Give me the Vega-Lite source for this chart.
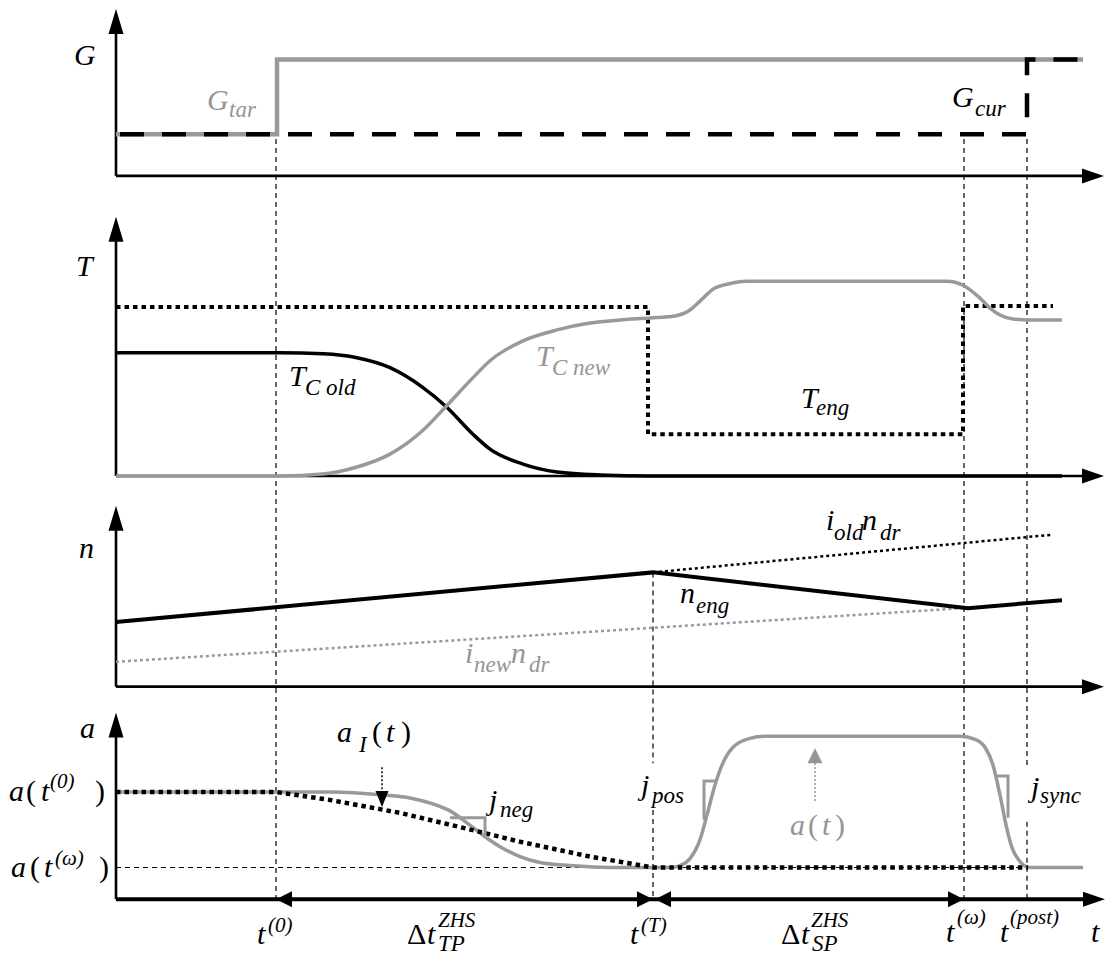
{
"$schema": "https://vega.github.io/schema/vega-lite/v6.json",
"width": 1105, "height": 956,
"autosize": {"type": "fit", "contains": "padding"},
"padding": 0,
"background": "white",
"config": {"view": {"stroke": null}, "text": {"font": "Liberation Serif"}},
"datasets": {
"axes": [
{"id":"yG","o":0,"t":116,"y":30},{"id":"yG","o":1,"t":116,"y":177},
{"id":"xG","o":0,"t":116,"y":177},{"id":"xG","o":1,"t":1086,"y":177},
{"id":"yT","o":0,"t":116,"y":240},{"id":"yT","o":1,"t":116,"y":479},
{"id":"xT","o":0,"t":116,"y":479},{"id":"xT","o":1,"t":1086,"y":479},
{"id":"yN","o":0,"t":116,"y":531},{"id":"yN","o":1,"t":116,"y":691},
{"id":"xN","o":0,"t":116,"y":691},{"id":"xN","o":1,"t":1086,"y":691},
{"id":"yA","o":0,"t":116,"y":739},{"id":"yA","o":1,"t":116,"y":905}
],
"axisA": [
{"id":"xA","o":0,"t":116,"y":905},{"id":"xA","o":1,"t":1090,"y":905}
],
"refs": [
{"id":"aw","o":0,"t":116,"y":873},{"id":"aw","o":1,"t":1083,"y":873},
{"id":"t0","o":0,"t":276,"y":140},{"id":"t0","o":1,"t":276,"y":905},
{"id":"tT1","o":0,"t":653,"y":576},{"id":"tT1","o":1,"t":653,"y":768},
{"id":"tT2","o":0,"t":653,"y":815},{"id":"tT2","o":1,"t":653,"y":905},
{"id":"tw","o":0,"t":964,"y":140},{"id":"tw","o":1,"t":964,"y":905},
{"id":"tp1","o":0,"t":1027,"y":140},{"id":"tp1","o":1,"t":1027,"y":772},
{"id":"tp2","o":0,"t":1027,"y":827},{"id":"tp2","o":1,"t":1027,"y":905}
],
"gtar": [
{"id":"g","o":0,"t":116,"y":135},{"id":"g","o":1,"t":277,"y":135},{"id":"g","o":2,"t":277,"y":60},{"id":"g","o":3,"t":1083,"y":60}
],
"gcur": [
{"id":"c","o":0,"t":116,"y":135},{"id":"c","o":1,"t":1027,"y":135},{"id":"c","o":2,"t":1027,"y":60},{"id":"c","o":3,"t":1083,"y":60}
],
"teng": [
{"id":"e","o":0,"t":116,"y":309},{"id":"e","o":1,"t":648,"y":309},{"id":"e","o":2,"t":648,"y":437},{"id":"e","o":3,"t":963,"y":437},{"id":"e","o":4,"t":963,"y":308},{"id":"e","o":5,"t":1053,"y":308}
],
"tcold": [
{"id":"o","o":0,"t":116,"y":355},{"id":"o","o":1,"t":280,"y":355},{"id":"o","o":2,"t":323,"y":356},{"id":"o","o":3,"t":357,"y":360},{"id":"o","o":4,"t":390,"y":370},{"id":"o","o":5,"t":423,"y":390},{"id":"o","o":6,"t":446,"y":409},{"id":"o","o":7,"t":473,"y":437},{"id":"o","o":8,"t":490,"y":452},{"id":"o","o":9,"t":523,"y":467},{"id":"o","o":10,"t":557,"y":475},{"id":"o","o":11,"t":600,"y":478},{"id":"o","o":12,"t":650,"y":479},{"id":"o","o":13,"t":1062,"y":479}
],
"tcnew": [
{"id":"n","o":0,"t":116,"y":479},{"id":"n","o":1,"t":280,"y":479},{"id":"n","o":2,"t":323,"y":477},{"id":"n","o":3,"t":357,"y":470},{"id":"n","o":4,"t":390,"y":457},{"id":"n","o":5,"t":423,"y":433},{"id":"n","o":6,"t":446,"y":409},{"id":"n","o":7,"t":473,"y":380},{"id":"n","o":8,"t":490,"y":363},{"id":"n","o":9,"t":523,"y":343},{"id":"n","o":10,"t":557,"y":332},{"id":"n","o":11,"t":590,"y":325},{"id":"n","o":12,"t":620,"y":322},{"id":"n","o":13,"t":650,"y":320},{"id":"n","o":14,"t":675,"y":318},{"id":"n","o":15,"t":690,"y":312},{"id":"n","o":16,"t":700,"y":303},{"id":"n","o":17,"t":713,"y":291},{"id":"n","o":18,"t":727,"y":286},{"id":"n","o":19,"t":747,"y":283},{"id":"n","o":20,"t":947,"y":283},{"id":"n","o":21,"t":963,"y":287},{"id":"n","o":22,"t":980,"y":300},{"id":"n","o":23,"t":990,"y":310},{"id":"n","o":24,"t":1000,"y":317},{"id":"n","o":25,"t":1013,"y":321},{"id":"n","o":26,"t":1030,"y":322},{"id":"n","o":27,"t":1062,"y":322}
],
"neng": [
{"id":"m","o":0,"t":116,"y":626},{"id":"m","o":1,"t":653,"y":576},{"id":"m","o":2,"t":968,"y":612},{"id":"m","o":3,"t":1062,"y":604}
],
"iold": [
{"id":"io","o":0,"t":653,"y":576},{"id":"io","o":1,"t":1053,"y":538}
],
"inew": [
{"id":"in","o":0,"t":116,"y":666},{"id":"in","o":1,"t":963,"y":612}
],
"agray": [
{"id":"a","o":0,"t":116,"y":797},{"id":"a","o":1,"t":276,"y":797},{"id":"a","o":2,"t":330,"y":797},{"id":"a","o":3,"t":383,"y":800},{"id":"a","o":4,"t":410,"y":803},{"id":"a","o":5,"t":433,"y":809},{"id":"a","o":6,"t":450,"y":816},{"id":"a","o":7,"t":467,"y":828},{"id":"a","o":8,"t":485,"y":842},{"id":"a","o":9,"t":500,"y":852},{"id":"a","o":10,"t":520,"y":862},{"id":"a","o":11,"t":540,"y":868},{"id":"a","o":12,"t":570,"y":871},{"id":"a","o":13,"t":610,"y":873},{"id":"a","o":14,"t":670,"y":873},{"id":"a","o":15,"t":680,"y":871},{"id":"a","o":16,"t":690,"y":864},{"id":"a","o":17,"t":700,"y":845},{"id":"a","o":18,"t":707,"y":820},{"id":"a","o":19,"t":715,"y":790},{"id":"a","o":20,"t":722,"y":770},{"id":"a","o":21,"t":733,"y":752},{"id":"a","o":22,"t":750,"y":743},{"id":"a","o":23,"t":765,"y":741},{"id":"a","o":24,"t":960,"y":741},{"id":"a","o":25,"t":975,"y":744},{"id":"a","o":26,"t":985,"y":752},{"id":"a","o":27,"t":993,"y":770},{"id":"a","o":28,"t":1000,"y":800},{"id":"a","o":29,"t":1006,"y":830},{"id":"a","o":30,"t":1012,"y":853},{"id":"a","o":31,"t":1020,"y":867},{"id":"a","o":32,"t":1030,"y":873},{"id":"a","o":33,"t":1083,"y":873}
],
"ai": [
{"id":"ai","o":0,"t":116,"y":797},{"id":"ai","o":1,"t":276,"y":797},{"id":"ai","o":2,"t":330,"y":805},{"id":"ai","o":3,"t":400,"y":818},{"id":"ai","o":4,"t":467,"y":834},{"id":"ai","o":5,"t":520,"y":847},{"id":"ai","o":6,"t":590,"y":862},{"id":"ai","o":7,"t":653,"y":873},{"id":"ai","o":8,"t":1028,"y":873}
],
"jerk": [
{"id":"jn","o":0,"t":450,"y":823},{"id":"jn","o":1,"t":485,"y":823},{"id":"jn","o":2,"t":485,"y":843},
{"id":"jp","o":0,"t":704,"y":825},{"id":"jp","o":1,"t":704,"y":786},{"id":"jp","o":2,"t":716,"y":786},
{"id":"js","o":0,"t":997,"y":781},{"id":"js","o":1,"t":1008,"y":781},{"id":"js","o":2,"t":1008,"y":823}
],
"stemk": [
{"id":"s1","o":0,"t":382,"y":772},{"id":"s1","o":1,"t":382,"y":798}
],
"stemg": [
{"id":"s2","o":0,"t":815,"y":806},{"id":"s2","o":1,"t":815,"y":766}
],
"arrows": [
{"t":116,"y":9,"dir":"up","tone":"k"},{"t":116,"y":218,"dir":"up","tone":"k"},{"t":116,"y":509,"dir":"up","tone":"k"},{"t":116,"y":717,"dir":"up","tone":"k"},
{"t":1104,"y":177,"dir":"right","tone":"k"},{"t":1104,"y":479,"dir":"right","tone":"k"},{"t":1104,"y":691,"dir":"right","tone":"k"},{"t":1105,"y":905,"dir":"right","tone":"k"},
{"t":276,"y":905,"dir":"sleft","tone":"k"},{"t":655,"y":905,"dir":"sleft","tone":"k"},{"t":653,"y":905,"dir":"sright","tone":"k"},{"t":964,"y":905,"dir":"sright","tone":"k"},
{"t":382,"y":812,"dir":"down","tone":"k"},{"t":815,"y":753,"dir":"gup","tone":"g"}
],
"tmain": [
{"t":74,"y":65,"s":"G","tone":"k"},{"t":76,"y":278,"s":"T","tone":"k"},{"t":79,"y":562,"s":"n","tone":"k"},{"t":80,"y":743,"s":"a","tone":"k"},
{"t":207,"y":111,"s":"G","tone":"g"},{"t":952,"y":108,"s":"G","tone":"k"},
{"t":289,"y":388,"s":"T","tone":"k"},{"t":536,"y":368,"s":"T","tone":"g"},{"t":801,"y":411,"s":"T","tone":"k"},
{"t":826,"y":533,"s":"i","tone":"k"},{"t":862,"y":533,"s":"n","tone":"k"},
{"t":680,"y":607,"s":"n","tone":"k"},
{"t":465,"y":667,"s":"i","tone":"g"},{"t":511,"y":667,"s":"n","tone":"g"},
{"t":9,"y":806,"s":"a","tone":"k"},{"t":41,"y":806,"s":"t","tone":"k"},
{"t":11,"y":883,"s":"a","tone":"k"},{"t":44,"y":883,"s":"t","tone":"k"},
{"t":337,"y":747,"s":"a","tone":"k"},{"t":386,"y":747,"s":"t","tone":"k"},
{"t":489,"y":815,"s":"j","tone":"k"},{"t":641,"y":800,"s":"j","tone":"k"},{"t":1031,"y":802,"s":"j","tone":"k"},
{"t":790,"y":840,"s":"a","tone":"g"},{"t":822,"y":840,"s":"t","tone":"g"},
{"t":257,"y":950,"s":"t","tone":"k"},{"t":427,"y":950,"s":"t","tone":"k"},{"t":630,"y":950,"s":"t","tone":"k"},{"t":801,"y":950,"s":"t","tone":"k"},{"t":946,"y":948,"s":"t","tone":"k"},{"t":1000,"y":948,"s":"t","tone":"k"},{"t":1091,"y":948,"s":"t","tone":"k"}
],
"tsub": [
{"t":229,"y":118,"s":"tar","tone":"g"},{"t":975,"y":117,"s":"cur","tone":"k"},
{"t":305,"y":397,"s":"C old","tone":"k"},{"t":552,"y":377,"s":"C new","tone":"g"},{"t":816,"y":418,"s":"eng","tone":"k"},
{"t":834,"y":543,"s":"old","tone":"k"},{"t":880,"y":543,"s":"dr","tone":"k"},
{"t":696,"y":617,"s":"eng","tone":"k"},
{"t":474,"y":676,"s":"new","tone":"g"},{"t":529,"y":676,"s":"dr","tone":"g"},
{"t":359,"y":757,"s":"I","tone":"k"},
{"t":500,"y":822,"s":"neg","tone":"k"},{"t":652,"y":808,"s":"pos","tone":"k"},{"t":1040,"y":808,"s":"sync","tone":"k"},
{"t":438,"y":957,"s":"TP","tone":"k"},{"t":812,"y":957,"s":"SP","tone":"k"}
],
"tsup": [
{"t":50,"y":793,"s":"(0)","tone":"k"},{"t":55,"y":870,"s":"(ω)","tone":"k"},
{"t":268,"y":938,"s":"(0)","tone":"k"},{"t":641,"y":938,"s":"(T)","tone":"k"},
{"t":957,"y":930,"s":"(ω)","tone":"k"},{"t":1010,"y":930,"s":"(post)","tone":"k"},
{"t":438,"y":933,"s":"ZHS","tone":"k"},{"t":811,"y":933,"s":"ZHS","tone":"k"}
],
"troman": [
{"t":26,"y":806,"s":"(","tone":"k"},{"t":95,"y":806,"s":")","tone":"k"},
{"t":30,"y":883,"s":"(","tone":"k"},{"t":99,"y":883,"s":")","tone":"k"},
{"t":372,"y":747,"s":"(","tone":"k"},{"t":401,"y":747,"s":")","tone":"k"},
{"t":808,"y":840,"s":"(","tone":"g"},{"t":835,"y":840,"s":")","tone":"g"},
{"t":407,"y":950,"s":"Δ","tone":"k"},{"t":781,"y":950,"s":"Δ","tone":"k"}
]
},
"encoding": {
"x": {"field": "t", "type": "quantitative", "scale": {"domain": [0, 1105], "nice": false, "zero": false}, "axis": null},
"y": {"field": "y", "type": "quantitative", "scale": {"domain": [956, 0], "nice": false, "zero": false}, "axis": null}
},
"layer": [
{"data": {"name": "refs"}, "mark": {"type": "line", "stroke": "#000000", "strokeWidth": 1.2, "strokeDash": [5, 4]}, "encoding": {"detail": {"field": "id"}, "order": {"field": "o"}}},
{"data": {"name": "axes"}, "mark": {"type": "line", "stroke": "#000000", "strokeWidth": 2.6}, "encoding": {"detail": {"field": "id"}, "order": {"field": "o"}}},
{"data": {"name": "axisA"}, "mark": {"type": "line", "stroke": "#000000", "strokeWidth": 4}, "encoding": {"detail": {"field": "id"}, "order": {"field": "o"}}},
{"data": {"name": "gtar"}, "mark": {"type": "line", "stroke": "#999999", "strokeWidth": 4.5}, "encoding": {"detail": {"field": "id"}, "order": {"field": "o"}}},
{"data": {"name": "gcur"}, "mark": {"type": "line", "stroke": "#000000", "strokeWidth": 4.5, "strokeDash": [24, 18], "strokeDashOffset": -4}, "encoding": {"detail": {"field": "id"}, "order": {"field": "o"}}},
{"data": {"name": "teng"}, "mark": {"type": "line", "stroke": "#000000", "strokeWidth": 4, "strokeDash": [4.5, 4]}, "encoding": {"detail": {"field": "id"}, "order": {"field": "o"}}},
{"data": {"name": "tcold"}, "mark": {"type": "line", "stroke": "#000000", "strokeWidth": 3.5, "interpolate": "monotone"}, "encoding": {"detail": {"field": "id"}, "order": {"field": "o"}}},
{"data": {"name": "tcnew"}, "mark": {"type": "line", "stroke": "#999999", "strokeWidth": 3.5, "interpolate": "monotone"}, "encoding": {"detail": {"field": "id"}, "order": {"field": "o"}}},
{"data": {"name": "inew"}, "mark": {"type": "line", "stroke": "#999999", "strokeWidth": 2.5, "strokeDash": [3, 3]}, "encoding": {"detail": {"field": "id"}, "order": {"field": "o"}}},
{"data": {"name": "iold"}, "mark": {"type": "line", "stroke": "#000000", "strokeWidth": 2.5, "strokeDash": [3, 3]}, "encoding": {"detail": {"field": "id"}, "order": {"field": "o"}}},
{"data": {"name": "neng"}, "mark": {"type": "line", "stroke": "#000000", "strokeWidth": 4}, "encoding": {"detail": {"field": "id"}, "order": {"field": "o"}}},
{"data": {"name": "agray"}, "mark": {"type": "line", "stroke": "#999999", "strokeWidth": 3.5, "interpolate": "monotone"}, "encoding": {"detail": {"field": "id"}, "order": {"field": "o"}}},
{"data": {"name": "ai"}, "mark": {"type": "line", "stroke": "#000000", "strokeWidth": 4.5, "strokeDash": [4.5, 4]}, "encoding": {"detail": {"field": "id"}, "order": {"field": "o"}}},
{"data": {"name": "jerk"}, "mark": {"type": "line", "stroke": "#999999", "strokeWidth": 3}, "encoding": {"detail": {"field": "id"}, "order": {"field": "o"}}},
{"data": {"name": "stemk"}, "mark": {"type": "line", "stroke": "#000000", "strokeWidth": 1.5, "strokeDash": [2, 2]}, "encoding": {"detail": {"field": "id"}, "order": {"field": "o"}}},
{"data": {"name": "stemg"}, "mark": {"type": "line", "stroke": "#999999", "strokeWidth": 1.5, "strokeDash": [2, 2]}, "encoding": {"detail": {"field": "id"}, "order": {"field": "o"}}},
{"data": {"name": "arrows"}, "mark": {"type": "point", "filled": true, "size": 100, "opacity": 1},
 "encoding": {
  "shape": {"field": "dir", "type": "nominal", "legend": null, "scale": {"domain": ["up", "right", "sright", "sleft", "down", "gup"], "range": ["M0,0L-1.5,5L1.5,5Z", "M0,0L-4.4,-1.5L-4.4,1.5Z", "M0,0L-3.2,-1.6L-3.2,1.6Z", "M0,0L3.2,-1.6L3.2,1.6Z", "M0,0L-1.3,-3.2L1.3,-3.2Z", "M0,0L-1.5,3L1.5,3Z"]}},
  "color": {"field": "tone", "type": "nominal", "legend": null, "scale": {"domain": ["k", "g"], "range": ["#000000", "#959595"]}}
 }},
{"data": {"name": "tmain"}, "mark": {"type": "text", "font": "Liberation Serif", "fontStyle": "italic", "fontSize": 30, "align": "left", "baseline": "alphabetic"},
 "encoding": {"text": {"field": "s"}, "color": {"field": "tone", "type": "nominal", "legend": null, "scale": {"domain": ["k", "g"], "range": ["#000000", "#959595"]}}}},
{"data": {"name": "tsub"}, "mark": {"type": "text", "font": "Liberation Serif", "fontStyle": "italic", "fontSize": 23, "align": "left", "baseline": "alphabetic"},
 "encoding": {"text": {"field": "s"}, "color": {"field": "tone", "type": "nominal", "legend": null, "scale": {"domain": ["k", "g"], "range": ["#000000", "#959595"]}}}},
{"data": {"name": "tsup"}, "mark": {"type": "text", "font": "Liberation Serif", "fontStyle": "italic", "fontSize": 21, "align": "left", "baseline": "alphabetic"},
 "encoding": {"text": {"field": "s"}, "color": {"field": "tone", "type": "nominal", "legend": null, "scale": {"domain": ["k", "g"], "range": ["#000000", "#959595"]}}}},
{"data": {"name": "troman"}, "mark": {"type": "text", "font": "Liberation Serif", "fontSize": 30, "align": "left", "baseline": "alphabetic"},
 "encoding": {"text": {"field": "s"}, "color": {"field": "tone", "type": "nominal", "legend": null, "scale": {"domain": ["k", "g"], "range": ["#000000", "#959595"]}}}}
]
}
